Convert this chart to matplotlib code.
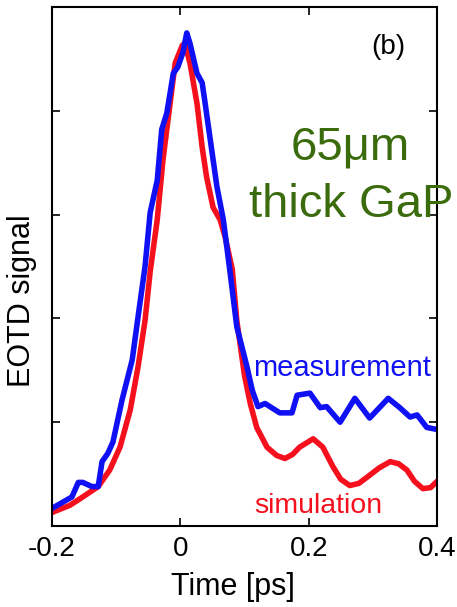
import numpy as np
import matplotlib
matplotlib.use('Agg')
import matplotlib.pyplot as plt

plt.rcParams['font.family'] = ['Liberation Sans', 'DejaVu Sans']

# simulation (red)
t_sim = [-0.2, -0.172, -0.152, -0.128, -0.110, -0.094, -0.078, -0.066, -0.055,
         -0.047, -0.036, -0.027, -0.016, -0.008, 0.003, 0.007, 0.015, 0.026,
         0.034, 0.041, 0.051, 0.062, 0.070, 0.081, 0.088, 0.100, 0.109, 0.119,
         0.135, 0.150, 0.163, 0.175, 0.186, 0.207, 0.222, 0.238, 0.250, 0.264,
         0.278, 0.291, 0.310, 0.327, 0.340, 0.353, 0.365, 0.378, 0.390, 0.40]
v_sim = [0.13, 0.20, 0.28, 0.38, 0.54, 0.76, 1.12, 1.53, 1.98,
         2.45, 2.95, 3.53, 4.07, 4.46, 4.63, 4.65, 4.46, 4.07,
         3.65, 3.36, 3.07, 2.95, 2.78, 2.47, 1.98, 1.45, 1.18, 0.95,
         0.76, 0.68, 0.65, 0.69, 0.76, 0.84, 0.76, 0.57, 0.45, 0.39,
         0.41, 0.47, 0.56, 0.62, 0.60, 0.54, 0.43, 0.36, 0.37, 0.43]

# measurement (blue)
t_meas = [-0.2, -0.183, -0.169, -0.159, -0.152, -0.138, -0.128, -0.122, -0.113,
          -0.105, -0.091, -0.075, -0.066, -0.055, -0.047, -0.036, -0.029, -0.021,
          -0.011, -0.004, 0.004, 0.010, 0.015, 0.026, 0.034, 0.038, 0.046,
          0.057, 0.067, 0.077, 0.088, 0.104, 0.112, 0.121, 0.132, 0.155, 0.174,
          0.182, 0.202, 0.218, 0.228, 0.249, 0.272, 0.295, 0.324, 0.342, 0.358,
          0.369, 0.384, 0.40]
v_meas = [0.17, 0.23, 0.28, 0.42, 0.42, 0.38, 0.38, 0.62, 0.70,
          0.81, 1.21, 1.60, 2.01, 2.50, 3.02, 3.33, 3.82, 3.98,
          4.36, 4.42, 4.56, 4.75, 4.65, 4.36, 4.27, 4.10, 3.75,
          3.27, 2.95, 2.47, 1.92, 1.53, 1.31, 1.15, 1.18, 1.09, 1.09,
          1.26, 1.28, 1.14, 1.15, 1.00, 1.23, 1.04, 1.23, 1.14, 1.05,
          1.07, 0.95, 0.93]

xticks = [-0.2, 0, 0.2, 0.4]
xtick_labels = ['-0.2', '0', '0.2', '0.4']

W, H = 457, 607
fig = plt.figure(figsize=(4.57, 6.07), dpi=100)
ax = fig.add_axes([52 / W, 1 - 526 / H, 385 / W, 519 / H])

red = '#f5101e'
blue = '#1010f5'
green = '#3a6b0c'

ax.plot(t_sim, v_sim, color=red, lw=4, solid_joinstyle='round', solid_capstyle='round')
ax.plot(t_meas, v_meas, color=blue, lw=4, solid_joinstyle='round', solid_capstyle='round')

ax.set_xlim(-0.2, 0.4)
ax.set_ylim(0, 5)
ax.set_xticks(xticks)
ax.set_xticklabels(xtick_labels)
ax.set_yticks([1, 2, 3, 4])
ax.set_yticklabels([])
ax.tick_params(direction='in', length=6, width=1.2, top=True, right=True,
               labelsize=20, pad=7)
for s in ax.spines.values():
    s.set_linewidth(1.5)

ax.set_xlabel('Time [ps]', fontsize=22)
ax.xaxis.set_label_coords((233 - 52) / 385, -(587 - 526) / 519)
ax.xaxis.label.set_va('center')
ax.set_ylabel('EOTD signal', fontsize=22)
ax.yaxis.set_label_coords(-(52 - 22) / 385, (526 - 301) / 519)
ax.yaxis.label.set_va('center')


def ptext(x, y, s, **kw):
    fig.text(x / W, 1 - y / H, s, **kw)


ptext(388, 47, '(b)', fontsize=20, ha='center', va='center')
ptext(350, 160, '65\u03bcm', fontsize=34, color=green, ha='center', va='baseline')
ptext(351, 217, 'thick GaP', fontsize=34, color=green, ha='center', va='baseline')
ptext(342, 376, 'measurement', fontsize=21, color=blue, ha='center', va='baseline')
ptext(318, 513, 'simulation', fontsize=20.5, color=red, ha='center', va='baseline')

fig.savefig('out.png', dpi=100)
